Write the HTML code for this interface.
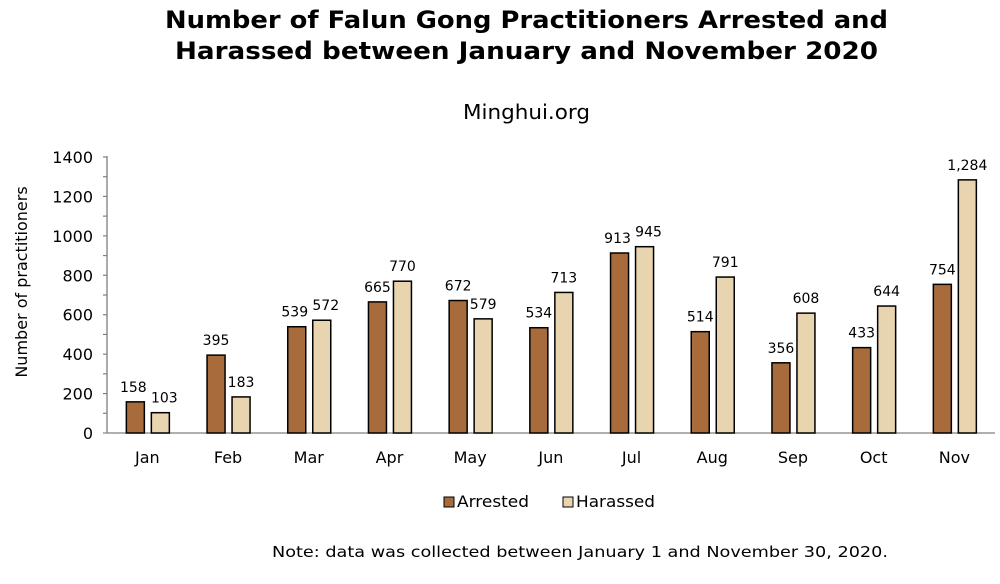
<!DOCTYPE html>
<html><head><meta charset="utf-8"><style>
body{margin:0;background:#fff;}
svg{display:block;font-family:"DejaVu Sans","Liberation Sans",sans-serif;}
</style></head><body>
<svg width="1000" height="584" viewBox="0 0 1000 584">
<text x="165" y="28" font-size="24" font-weight="bold" textLength="723" lengthAdjust="spacingAndGlyphs">Number of Falun Gong Practitioners Arrested and</text>
<text x="175" y="59" font-size="24" font-weight="bold" textLength="703" lengthAdjust="spacingAndGlyphs">Harassed between January and November 2020</text>
<text x="463" y="119" font-size="20" textLength="127" lengthAdjust="spacingAndGlyphs">Minghui.org</text>
<text transform="translate(27,282) rotate(-90)" text-anchor="middle" font-size="16">Number of practitioners</text>
<g stroke="#808080" stroke-width="1.3">
<line x1="107" y1="156" x2="107" y2="433"/>
<line x1="107" y1="433" x2="995" y2="433"/>
</g>
<g id="ticks"></g>
<g id="bars"></g>
<rect x="444" y="497" width="10" height="10" fill="#A86B3C" stroke="#000" stroke-width="1"/>
<text x="457" y="507" font-size="16" textLength="72" lengthAdjust="spacingAndGlyphs">Arrested</text>
<rect x="563" y="497" width="10" height="10" fill="#E8D5B0" stroke="#000" stroke-width="1"/>
<text x="576" y="507" font-size="16" textLength="79" lengthAdjust="spacingAndGlyphs">Harassed</text>
<text x="272" y="557" font-size="15" textLength="616" lengthAdjust="spacingAndGlyphs">Note: data was collected between January 1 and November 30, 2020.</text>
</svg>
<script>
var ns="http://www.w3.org/2000/svg";
function el(t,a,p,txt){var e=document.createElementNS(ns,t);for(var k in a)e.setAttribute(k,a[k]);if(txt!=null)e.textContent=txt;document.getElementById(p).appendChild(e);}
var y0=433,s=276/1400;
for(var v=0;v<=1400;v+=100){var y=y0-v*s;el("line",{x1:103,x2:107,y1:y,y2:y,stroke:"#808080","stroke-width":1.2},"ticks");
if(v%200==0)el("text",{x:93,y:y+6,"text-anchor":"end","font-size":16},"ticks",String(v));}
var m=["Jan","Feb","Mar","Apr","May","Jun","Jul","Aug","Sep","Oct","Nov"];
var a=[158,395,539,665,672,534,913,514,356,433,754];
var h=[103,183,572,770,579,713,945,791,608,644,1284];
var w=80.7;
for(var i=0;i<11;i++){var c=107+w*(i+0.5);
el("text",{x:c,y:463,"text-anchor":"middle","font-size":16},"bars",m[i]);
var ya=y0-a[i]*s,yh=y0-h[i]*s;
el("rect",{x:c-21,y:ya,width:18,height:y0-ya,fill:"#A86B3C",stroke:"#000","stroke-width":1.5},"bars");
el("rect",{x:c+4,y:yh,width:18,height:y0-yh,fill:"#E8D5B0",stroke:"#000","stroke-width":1.5},"bars");
var ca=c-12,ch=c+13;
if(Math.abs(ya-yh)<15){ca-=2;ch+=4;}
el("text",{x:ca,y:ya-10,"text-anchor":"middle","font-size":14},"bars",String(a[i]));
el("text",{x:ch,y:yh-10,"text-anchor":"middle","font-size":14},"bars",h[i]>=1000?"1,284":String(h[i]));
}
</script>
</body></html>
